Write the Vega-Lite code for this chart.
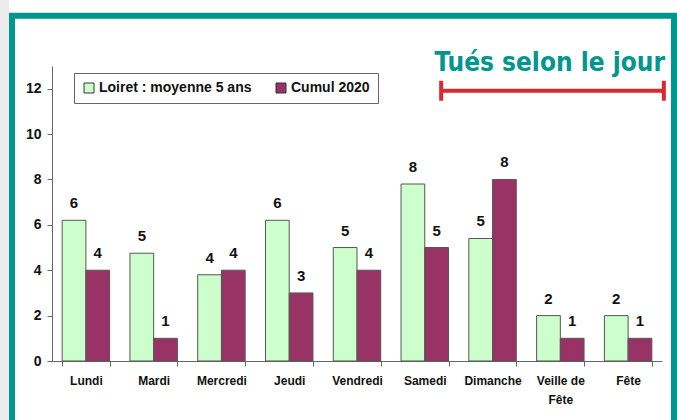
{
  "$schema": "https://vega.github.io/schema/vega-lite/v6.json",
  "width": 610,
  "height": 295,
  "autosize": {"type": "none"},
  "padding": {"left": 52, "top": 66, "right": 15, "bottom": 59},
  "background": "white",
  "config": {
    "view": {"stroke": null},
    "font": "Liberation Sans",
    "axis": {"labelFont": "Liberation Sans", "labelFontWeight": "bold", "labelColor": "#111", "domainColor": "#666", "tickColor": "#666", "grid": false}
  },
  "datasets": {
    "bars": [
      {"jour": "Lundi", "serie": "Loiret : moyenne 5 ans", "valeur": 6.2},
      {"jour": "Lundi", "serie": "Cumul 2020", "valeur": 4},
      {"jour": "Mardi", "serie": "Loiret : moyenne 5 ans", "valeur": 4.75},
      {"jour": "Mardi", "serie": "Cumul 2020", "valeur": 1},
      {"jour": "Mercredi", "serie": "Loiret : moyenne 5 ans", "valeur": 3.8},
      {"jour": "Mercredi", "serie": "Cumul 2020", "valeur": 4},
      {"jour": "Jeudi", "serie": "Loiret : moyenne 5 ans", "valeur": 6.2},
      {"jour": "Jeudi", "serie": "Cumul 2020", "valeur": 3},
      {"jour": "Vendredi", "serie": "Loiret : moyenne 5 ans", "valeur": 5.0},
      {"jour": "Vendredi", "serie": "Cumul 2020", "valeur": 4},
      {"jour": "Samedi", "serie": "Loiret : moyenne 5 ans", "valeur": 7.8},
      {"jour": "Samedi", "serie": "Cumul 2020", "valeur": 5},
      {"jour": "Dimanche", "serie": "Loiret : moyenne 5 ans", "valeur": 5.4},
      {"jour": "Dimanche", "serie": "Cumul 2020", "valeur": 8},
      {"jour": "Veille de Fête", "serie": "Loiret : moyenne 5 ans", "valeur": 2.0},
      {"jour": "Veille de Fête", "serie": "Cumul 2020", "valeur": 1},
      {"jour": "Fête", "serie": "Loiret : moyenne 5 ans", "valeur": 2.0},
      {"jour": "Fête", "serie": "Cumul 2020", "valeur": 1}
    ],
    "one": [{}]
  },
  "layer": [
    {
      "data": {"name": "bars"},
      "encoding": {
        "x": {
          "field": "jour",
          "type": "nominal",
          "sort": ["Lundi", "Mardi", "Mercredi", "Jeudi", "Vendredi", "Samedi", "Dimanche", "Veille de Fête", "Fête"],
          "scale": {"paddingInner": 0.3, "paddingOuter": 0.15},
          "axis": {
            "title": null,
            "labelAngle": 0,
            "labelFontSize": 12,
            "labelPadding": 9,
            "tickBand": "extent",
            "tickSize": 5,
            "labelExpr": "datum.label == 'Veille de Fête' ? ['Veille de', 'Fête'] : datum.label",
            "labelLineHeight": 19
          }
        },
        "xOffset": {"field": "serie", "type": "nominal", "sort": ["Loiret : moyenne 5 ans", "Cumul 2020"]},
        "y": {
          "field": "valeur",
          "type": "quantitative",
          "scale": {"domain": [0, 13], "nice": false},
          "axis": {"title": null, "values": [0, 2, 4, 6, 8, 10, 12], "labelFontSize": 14, "tickSize": 5, "labelPadding": 6}
        }
      },
      "layer": [
        {
          "mark": {"type": "bar", "stroke": "#555", "strokeWidth": 1},
          "encoding": {
            "color": {
              "field": "serie",
              "type": "nominal",
              "sort": ["Loiret : moyenne 5 ans", "Cumul 2020"],
              "scale": {"range": ["#ccffcc", "#993366"]},
              "legend": {
                "title": null,
                "orient": "none",
                "legendX": 22,
                "legendY": 7,
                "direction": "horizontal",
                "strokeColor": "#666",
                "fillColor": "white",
                "padding": 8,
                "symbolType": "square",
                "symbolSize": 100,
                "symbolStrokeColor": "#333",
                "symbolStrokeWidth": 1,
                "labelFont": "Liberation Sans",
                "labelFontWeight": "bold",
                "labelFontSize": 14,
                "labelColor": "#111",
                "labelOffset": 3,
                "columnPadding": 22,
                "labelLimit": 300
              }
            }
          }
        },
        {
          "mark": {"type": "text", "baseline": "bottom", "dy": -9, "fontSize": 15, "fontWeight": "bold", "color": "#111"},
          "encoding": {
            "text": {"field": "valeur", "type": "quantitative", "format": ".0f"}
          }
        }
      ]
    },
    {
      "data": {"name": "one"},
      "mark": {"type": "rect", "fill": "#ececec", "stroke": null},
      "encoding": {
        "x": {"datum": -0.0853, "type": "quantitative", "scale": {"domain": [0, 1]}, "axis": null},
        "x2": {"datum": -0.0705},
        "y": {"datum": 16, "type": "quantitative"},
        "y2": {"datum": -3}
      }
    },
    {
      "data": {"name": "one"},
      "mark": {"type": "rect", "filled": false, "stroke": "#00968f", "strokeWidth": 6},
      "encoding": {
        "x": {"datum": -0.0656, "type": "quantitative", "scale": {"domain": [0, 1]}, "axis": null},
        "x2": {"datum": 1.0197},
        "y": {"datum": 15.21, "type": "quantitative"},
        "y2": {"datum": -3}
      }
    },
    {
      "data": {"name": "one"},
      "mark": {
        "type": "text",
        "text": "Tués selon le jour",
        "align": "right",
        "baseline": "alphabetic",
        "font": "'Liberation Sans Narrow', 'DejaVu Sans Condensed', 'Roboto Condensed', sans-serif",
        "fontSize": 26,
        "fontWeight": "bold",
        "color": "#00968f"
      },
      "encoding": {
        "x": {"datum": 1.005, "type": "quantitative", "scale": {"domain": [0, 1]}, "axis": null},
        "y": {"datum": 12.79, "type": "quantitative"}
      }
    },
    {
      "data": {"name": "one"},
      "mark": {"type": "rule", "stroke": "#d62a32", "strokeWidth": 4},
      "encoding": {
        "x": {"datum": 0.638, "type": "quantitative", "scale": {"domain": [0, 1]}, "axis": null},
        "x2": {"datum": 1.003},
        "y": {"datum": 11.91, "type": "quantitative"}
      }
    },
    {
      "data": {"name": "one"},
      "mark": {"type": "rule", "stroke": "#d62a32", "strokeWidth": 4},
      "encoding": {
        "x": {"datum": 0.638, "type": "quantitative", "scale": {"domain": [0, 1]}, "axis": null},
        "y": {"datum": 12.35, "type": "quantitative"},
        "y2": {"datum": 11.47}
      }
    },
    {
      "data": {"name": "one"},
      "mark": {"type": "rule", "stroke": "#d62a32", "strokeWidth": 4},
      "encoding": {
        "x": {"datum": 1.003, "type": "quantitative", "scale": {"domain": [0, 1]}, "axis": null},
        "y": {"datum": 12.35, "type": "quantitative"},
        "y2": {"datum": 11.47}
      }
    }
  ],
  "resolve": {"scale": {"x": "independent"}}
}
